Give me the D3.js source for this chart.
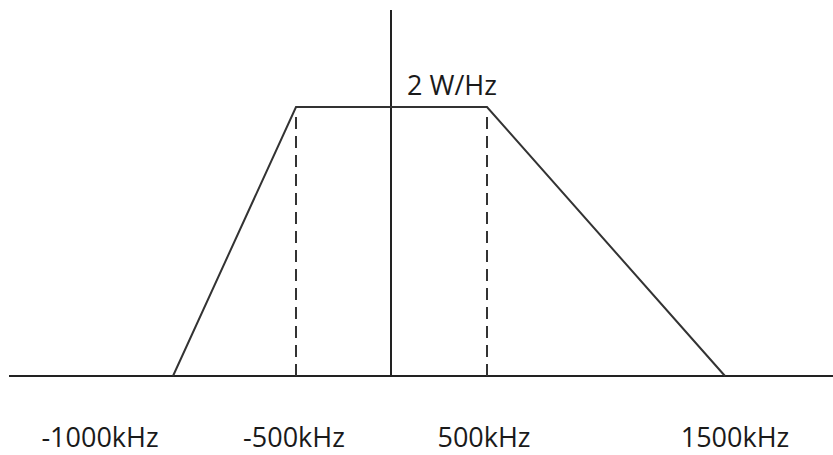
<!DOCTYPE html>
<html>
<head>
<meta charset="utf-8">
<script src="https://cdn.jsdelivr.net/npm/d3@7"></script>
<style>
  body { margin: 0; background: #fff; }
  text { font-family: "Open Sans", "Liberation Sans", sans-serif; fill: #1a1a1a; }
</style>
</head>
<body>
<script>
//spectrum corners (kHz, W/Hz)
var freqs = [-1000, -500, 500, 1500];
var psd = [0, 2, 2, 0];

//dashed markers and tick labels
var markFreqs = [-500, 500];
var tickFreqs = [-1000, -500, 500, 1500];
var tickLabels = ["-1000kHz", "-500kHz", "500kHz", "1500kHz"];
var peakLabel = "2 W/Hz";

window.onload = draw();

function draw(){

    var width = 833,
        height = 455;

    var svg = d3.select("body")
        .append("svg")
        .attr("width", width)
        .attr("height", height);

    //hand drawn sketch, spacing not quite even so use piecewise scale
    var x = d3.scaleLinear()
        .domain([-1000, -500, 0, 500, 1500])
        .range([173, 296, 391, 487, 725]);

    var y = d3.scaleLinear()
        .domain([0, 2])
        .range([376, 107]);

    //horizontal axis
    svg.append("line")
        .attr("x1", 9).attr("x2", width)
        .attr("y1", y(0)).attr("y2", y(0))
        .attr("stroke", "#222")
        .attr("stroke-width", 2);

    //vertical axis
    svg.append("line")
        .attr("x1", x(0)).attr("x2", x(0))
        .attr("y1", 10).attr("y2", y(0))
        .attr("stroke", "#222")
        .attr("stroke-width", 2);

    //dashed guides
    svg.selectAll(".guide")
        .data(markFreqs)
        .enter()
        .append("line")
        .attr("class", "guide")
        .attr("x1", d => x(d)).attr("x2", d => x(d))
        .attr("y1", y(2) + 10).attr("y2", y(0))
        .attr("stroke", "#333")
        .attr("stroke-width", 2)
        .attr("stroke-dasharray", "12,7");

    //trapezoid
    var line = d3.line()
        .x(d => x(d[0]))
        .y(d => y(d[1]));

    svg.append("path")
        .datum(d3.zip(freqs, psd))
        .attr("d", line)
        .attr("fill", "none")
        .attr("stroke", "#333")
        .attr("stroke-width", 2);

    //tick labels, offset from the corners like in the sketch
    var labelShift = [-73, -2, -3, 10];
    svg.selectAll(".tick")
        .data(tickLabels)
        .enter()
        .append("text")
        .attr("class", "tick")
        .attr("x", (d, i) => x(tickFreqs[i]) + labelShift[i])
        .attr("y", 447)
        .attr("text-anchor", "middle")
        .attr("font-size", 27)
        .text(d => d);

    svg.append("text")
        .attr("x", 407)
        .attr("y", 95)
        .attr("font-size", 27)
        .text(peakLabel);
}
</script>
</body>
</html>
